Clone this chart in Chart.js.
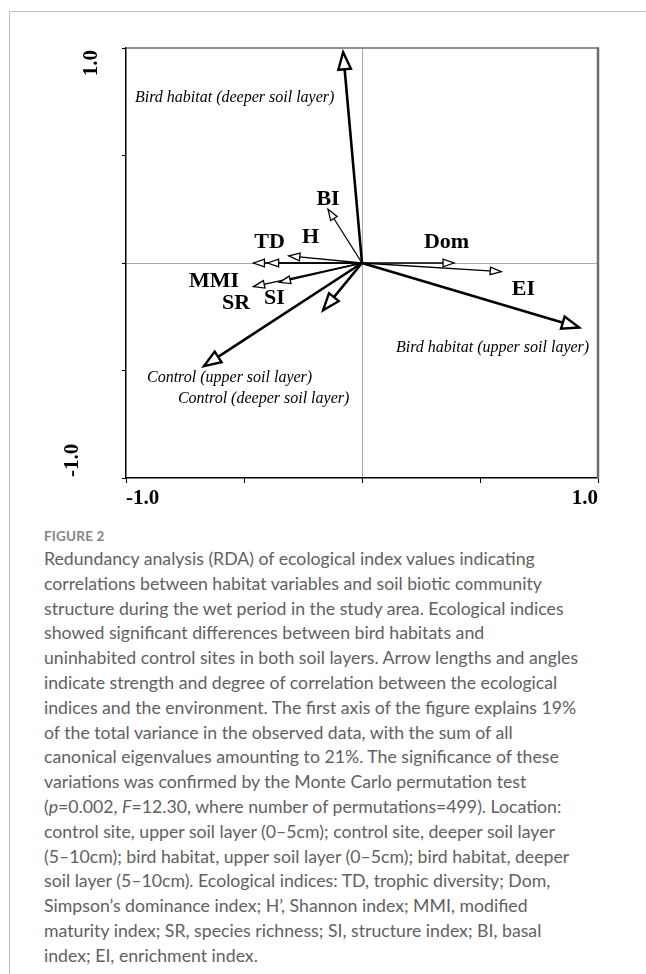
<!DOCTYPE html>
<html>
<head>
<meta charset="utf-8">
<script src="https://cdn.jsdelivr.net/npm/chart.js@4.4.1/dist/chart.umd.min.js"></script>
<style>
  body { margin: 0; background: #fff; width: 646px; height: 974px; overflow: hidden; position: relative; }
  #card { position: absolute; left: 9px; top: 11px; width: 700px; height: 1000px; border-left: 1.5px solid #c0c0c0; border-top: 1.5px solid #c0c0c0; }
  #grafico { position: absolute; left: 0; top: 0; }
  #legenda { position: absolute; left: 44px; top: 528px; font-family: Lato, "Open Sans", sans-serif; color: #616161; }
  #legenda .fig { font-size: 13.5px; font-weight: 700; color: #858585; letter-spacing: 0.2px; margin-bottom: 3px; }
  #legenda .linha { font-size: 17.7px; line-height: 24.8px; white-space: nowrap; }
</style>
</head>
<body>
<div id="card"></div>
<canvas id="grafico" width="646" height="515"></canvas>
<div id="legenda"></div>
<script>
// vetores ambientais (setas grossas)
const envNames = ["Bird habitat (deeper soil layer)", "Bird habitat (upper soil layer)", "Control (upper soil layer)", "Control (deeper soil layer)"];
const envX = [-0.08, 0.92, -0.67, -0.165];
const envY = [0.98, -0.30, -0.48, -0.22];

// indices ecologicos (setas finas)
const indexNames = ["BI", "H", "TD", "MMI", "SR", "SI", "Dom", "EI"];
const indexX = [-0.144, -0.31, -0.40, -0.46, -0.46, -0.35, 0.39, 0.59];
const indexY = [0.25, 0.033, 0.0, 0.0, -0.11, -0.09, 0.0, -0.04];

const axisTicks = [-1, -0.5, 0, 0.5, 1];
const axisLabels = ["-1.0", "1.0"];

// onde ficam os rotulos (em unidades do grafico)
const envLabelPos = [[-0.962, 0.749], [0.144, -0.414], [-0.911, -0.553], [-0.78, -0.651]];
const indexLabelPos = [[-0.144, 0.27], [-0.218, 0.093], [-0.392, 0.07], [-0.627, -0.112], [-0.534, -0.214], [-0.371, -0.191], [0.358, 0.07], [0.684, -0.149]];

const legendaLinhas = [
  "Redundancy analysis (RDA) of ecological index values indicating",
  "correlations between habitat variables and soil biotic community",
  "structure during the wet period in the study area. Ecological indices",
  "showed significant differences between bird habitats and",
  "uninhabited control sites in both soil layers. Arrow lengths and angles",
  "indicate strength and degree of correlation between the ecological",
  "indices and the environment. The first axis of the figure explains 19%",
  "of the total variance in the observed data, with the sum of all",
  "canonical eigenvalues amounting to 21%. The significance of these",
  "variations was confirmed by the Monte Carlo permutation test",
  "(<i>p</i>=0.002, <i>F</i>=12.30, where number of permutations=499). Location:",
  "control site, upper soil layer (0\u20135cm); control site, deeper soil layer",
  "(5\u201310cm); bird habitat, upper soil layer (0\u20135cm); bird habitat, deeper",
  "soil layer (5\u201310cm). Ecological indices: TD, trophic diversity; Dom,",
  "Simpson\u2019s dominance index; H\u2019, Shannon index; MMI, modified",
  "maturity index; SR, species richness; SI, structure index; BI, basal",
  "index; EI, enrichment index."
];

const legenda = document.getElementById("legenda");
legenda.innerHTML = '<div class="fig">FIGURE 2</div>' +
  legendaLinhas.map(l => '<div class="linha">' + l + "</div>").join("");

const SERIF = '"Liberation Serif", "Times New Roman", serif';

function desenharPonta(ctx, x0, y0, x1, y1, comp, larg, lw) {
  const ang = Math.atan2(y1 - y0, x1 - x0);
  const bx = x1 - comp * Math.cos(ang);
  const by = y1 - comp * Math.sin(ang);
  const px = -Math.sin(ang) * larg;
  const py = Math.cos(ang) * larg;
  ctx.beginPath();
  ctx.moveTo(x1, y1);
  ctx.lineTo(bx + px, by + py);
  ctx.lineTo(bx - px, by - py);
  ctx.closePath();
  ctx.fillStyle = "#fff";
  ctx.fill();
  ctx.lineWidth = lw;
  ctx.strokeStyle = "#000";
  ctx.lineJoin = "miter";
  ctx.stroke();
}

const pluginSetas = {
  id: "setasRDA",
  afterDatasetsDraw: (chart) => {
    const ctx = chart.ctx;
    const sx = chart.scales.x;
    const sy = chart.scales.y;
    const { left, top, right, bottom } = chart.chartArea;
    const ox = sx.getPixelForValue(0);
    const oy = sy.getPixelForValue(0);
    ctx.save();

    // moldura superior e direita (cinza)
    ctx.strokeStyle = "#6e6e6e";
    ctx.lineWidth = 1.5;
    ctx.beginPath();
    ctx.moveTo(left, top);
    ctx.lineTo(right, top);
    ctx.stroke();
    ctx.lineWidth = 2.5;
    ctx.beginPath();
    ctx.moveTo(right, top - 0.75);
    ctx.lineTo(right, bottom);
    ctx.stroke();

    for (let i = 0; i < indexX.length; i++) {
      desenharPonta(ctx, ox, oy, sx.getPixelForValue(indexX[i]), sy.getPixelForValue(indexY[i]), 11, 3.8, 1.3);
    }
    for (let i = 0; i < envX.length; i++) {
      desenharPonta(ctx, ox, oy, sx.getPixelForValue(envX[i]), sy.getPixelForValue(envY[i]), 17, 6.3, 2.4);
    }

    ctx.fillStyle = "#000";
    ctx.textBaseline = "alphabetic";
    ctx.font = "bold 22px " + SERIF;
    ctx.textAlign = "center";
    indexNames.forEach((nome, i) => {
      ctx.fillText(nome, sx.getPixelForValue(indexLabelPos[i][0]), sy.getPixelForValue(indexLabelPos[i][1]));
    });
    ctx.font = "italic 16px " + SERIF;
    ctx.textAlign = "left";
    envNames.forEach((nome, i) => {
      ctx.fillText(nome, sx.getPixelForValue(envLabelPos[i][0]), sy.getPixelForValue(envLabelPos[i][1]));
    });

    // rotulos do eixo y, girados
    ctx.font = "bold 21px " + SERIF;
    ctx.save();
    ctx.translate(left - 29, sy.getPixelForValue(1) + 2);
    ctx.rotate(-Math.PI / 2);
    ctx.textAlign = "right";
    ctx.fillText(axisLabels[1], 0, 0);
    ctx.restore();
    ctx.save();
    ctx.translate(left - 48, sy.getPixelForValue(-1) - 1);
    ctx.rotate(-Math.PI / 2);
    ctx.textAlign = "left";
    ctx.fillText(axisLabels[0], 0, 0);
    ctx.restore();

    ctx.restore();
  },
};

const datasetsSetas = [];
indexX.forEach((x, i) => {
  datasetsSetas.push({
    label: indexNames[i],
    data: [{ x: 0, y: 0 }, { x: x, y: indexY[i] }],
    showLine: true,
    borderColor: "#000",
    borderWidth: 1.3,
    pointRadius: 0,
  });
});
envX.forEach((x, i) => {
  datasetsSetas.push({
    label: envNames[i],
    data: [{ x: 0, y: 0 }, { x: x, y: envY[i] }],
    showLine: true,
    borderColor: "#000",
    borderWidth: 2.6,
    pointRadius: 0,
  });
});

function corGrade(ctx) {
  return ctx.tick && ctx.tick.value === 0 ? "#a8a8a8" : "rgba(0,0,0,0)";
}

new Chart(document.getElementById("grafico"), {
  type: "scatter",
  plugins: [pluginSetas],
  data: { datasets: datasetsSetas },
  options: {
    responsive: false,
    animation: false,
    devicePixelRatio: 1,
    layout: { padding: { left: 0, right: 48, top: 48, bottom: 0 } },
    plugins: { legend: { display: false }, tooltip: { enabled: false } },
    scales: {
      x: {
        type: "linear",
        min: -1,
        max: 1,
        afterBuildTicks: (scale) => { scale.ticks = axisTicks.map(v => ({ value: v })); },
        afterFit: (scale) => { scale.height = 37; },
        ticks: {
          align: "inner",
          maxRotation: 0,
          autoSkip: false,
          padding: 3,
          color: "#000",
          font: { family: SERIF, size: 21, weight: "bold" },
          callback: (v) => (v === -1 ? axisLabels[0] : v === 1 ? axisLabels[1] : ""),
        },
        grid: { color: corGrade, lineWidth: 1, tickColor: "#000", tickLength: 5, drawTicks: true },
        border: { color: "#000", width: 1.5 },
      },
      y: {
        type: "linear",
        min: -1,
        max: 1,
        afterBuildTicks: (scale) => { scale.ticks = axisTicks.map(v => ({ value: v })); },
        afterFit: (scale) => { scale.width = 126; },
        ticks: { callback: () => "", padding: 0 },
        grid: { color: corGrade, lineWidth: 1, tickColor: "#000", tickLength: 4, drawTicks: true },
        border: { color: "#000", width: 1.5 },
      },
    },
  },
});
</script>
</body>
</html>
